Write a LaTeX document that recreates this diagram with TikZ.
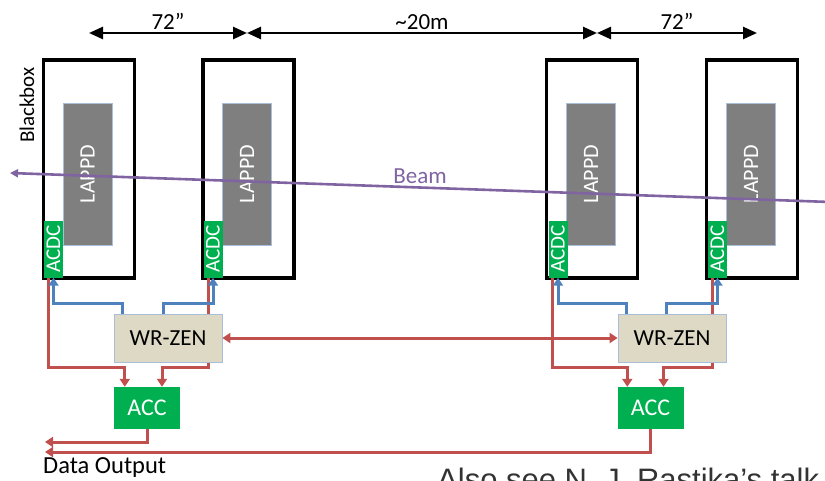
\documentclass[tikz,border=0pt]{standalone}
\usepackage{fontspec}
\setmainfont{Carlito}
\newfontfamily\talkfont{Liberation Sans}
\usepackage{xcolor}
\usepackage{tikz}
\usetikzlibrary{arrows.meta, positioning, calc}

\definecolor{accgreen}{HTML}{00B050}
\definecolor{lappdgray}{HTML}{7F7F7F}
\definecolor{wrfill}{HTML}{DDD9C4}
\definecolor{wrline}{HTML}{A9BED9}
\definecolor{linkred}{HTML}{C0504D}
\definecolor{linkblue}{HTML}{4F81BD}
\definecolor{beamviolet}{HTML}{8064A2}

\begin{document}
\begin{tikzpicture}[
    x=1pt,
    y=-1pt,
    bbox/.style={rectangle, draw, line width=3.4pt, minimum width=91pt,
                 minimum height=218pt, inner sep=0pt},
    lappd/.style={rectangle, draw=wrline, thin, fill=lappdgray,
                  minimum width=49pt, minimum height=142pt, inner sep=0pt,
                  text=white, font=\fontsize{22pt}{26pt}\selectfont},
    acdc/.style={rectangle, fill=accgreen, minimum width=19pt,
                 minimum height=57pt, inner sep=0pt, text=white,
                 font=\fontsize{21pt}{24pt}\selectfont},
    wrzen/.style={rectangle, draw=wrline, fill=wrfill, thick,
                  minimum width=108pt, minimum height=48pt, inner sep=0pt,
                  font=\fontsize{23pt}{26pt}\selectfont},
    acc/.style={rectangle, fill=accgreen, minimum width=66pt,
                minimum height=42pt, inner sep=0pt, text=white,
                font=\fontsize{24pt}{27pt}\selectfont},
    redarr/.style={-{Triangle[length=8pt, width=10pt]}, line width=3pt,
                   color=linkred},
    bluearr/.style={-{Triangle[length=8pt, width=10pt]}, line width=3pt,
                    color=linkblue},
    dimarr/.style={{Triangle[length=14pt, width=12pt]}-{Triangle[length=14pt, width=12pt]},
                   line width=2.5pt},
    lbl/.style={font=\fontsize{23pt}{26pt}\selectfont, inner sep=2pt},
]
\useasboundingbox (0,0) rectangle (825,480);

\coordinate (dimA) at (89,33);
\coordinate (dimB) at (247,33);
\coordinate (dimC) at (597,33);
\coordinate (dimD) at (757,33);
\draw[dimarr] (dimA) -- node[above, lbl] {72”} (dimB);
\draw[dimarr] (dimB) -- node[above, lbl] {\textasciitilde20m} (dimC);
\draw[dimarr] (dimC) -- node[above, lbl] {72”} (dimD);

\node[bbox]  (bbA)    at (89,169)    {};
\node[bbox]  (bbB)    at (248.5,169) {};
\node[bbox]  (bbC)    at (592,169)   {};
\node[bbox]  (bbD)    at (752,169)   {};
\node[lappd] (lappdA) at (87.5,174)  {\rotatebox{90}{LAPPD}};
\node[lappd] (lappdB) at (247,174)   {\rotatebox{90}{LAPPD}};
\node[lappd] (lappdC) at (591,174)   {\rotatebox{90}{LAPPD}};
\node[lappd] (lappdD) at (751,174)   {\rotatebox{90}{LAPPD}};
\node[acdc]  (acdcA)  at (53.5,249)  {\rotatebox{90}{ACDC}};
\node[acdc]  (acdcB)  at (213,249)   {\rotatebox{90}{ACDC}};
\node[acdc]  (acdcC)  at (558,249)   {\rotatebox{90}{ACDC}};
\node[acdc]  (acdcD)  at (717.5,249) {\rotatebox{90}{ACDC}};
\node[lbl, font=\fontsize{21pt}{24pt}\selectfont] (bbtag) at (27,105)
    {\rotatebox{90}{Blackbox}};

\node[acc] (accA) at (147,408)   {ACC};
\node[acc] (accB) at (650.5,408) {ACC};

\draw[redarr] ([xshift=-5pt]acdcA.south) -- ++(0,90)
    -| ([xshift=11pt]accA.north west);
\draw[redarr] ([xshift=-5pt]acdcB.south) -- ++(0,90)
    -| ([xshift=15pt]accA.north);
\draw[redarr] ([xshift=-6pt]acdcC.south) -- ++(0,90)
    -| ([xshift=10pt]accB.north west);
\draw[redarr] ([xshift=-5pt]acdcD.south) -- ++(0,90)
    -| ([xshift=13pt]accB.north);

\node[wrzen] (wrA) at (168,338) {WR-ZEN};
\node[wrzen] (wrB) at (672,338) {WR-ZEN};

\draw[bluearr] ([xshift=9pt]wrA.north west) -- ++(0,-10) -| (acdcA.south);
\draw[bluearr] ([xshift=-5pt]wrA.north) -- ++(0,-10) -| (acdcB.south);
\draw[bluearr] ([xshift=9pt]wrB.north west) -- ++(0,-10) -| (acdcC.south);
\draw[bluearr] ([xshift=-6pt]wrB.north) -- ++(0,-10) -| (acdcD.south);
\draw[redarr, {Triangle[length=8pt, width=10pt]}-{Triangle[length=8pt, width=10pt]}]
    (wrA.east) -- (wrB.west);

\coordinate (outA) at (45,442);
\coordinate (outB) at (45,452);
\draw[redarr] (accA.south) |- (outA);
\draw[redarr] (accB.south) |- (outB);
\node[lbl, anchor=west, font=\fontsize{24.5pt}{27pt}\selectfont] (dataout)
    at (41,468) {Data Output};

\coordinate (beamR) at (830,202);
\coordinate (beamL) at (10,173);
\draw[-{Triangle[length=8pt, width=8pt]}, line width=2.6pt, color=beamviolet]
    (beamR) -- node[above=1pt, lbl, text=beamviolet] {Beam} (beamL);

\node[anchor=base west, inner sep=0pt, text=black!80,
      font=\talkfont\fontsize{31pt}{34pt}\selectfont] (talk)
    at (437,490) {Also see N. J. Rastika’s talk};
\end{tikzpicture}
\end{document}
